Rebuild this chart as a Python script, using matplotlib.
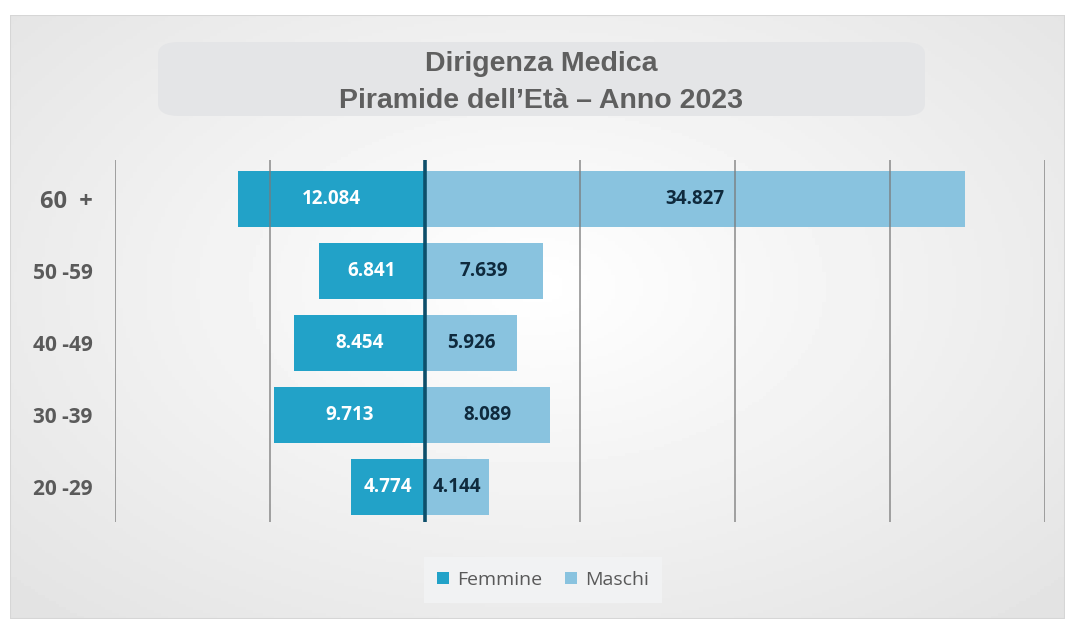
import numpy as np
import matplotlib.pyplot as plt
from matplotlib.patches import FancyBboxPatch, Rectangle

classi = ['20 -29', '30 -39', '40 -49', '50 -59', '60  +']
femmine = [4774, 9713, 8454, 6841, 12084]
maschi = [4144, 8089, 5926, 7639, 34827]
lab_f = ['4.774', '9.713', '8.454', '6.841', '12.084']
lab_m = ['4.144', '8.089', '5.926', '7.639', '34.827']

col_f = '#22a2c8'
col_m = '#89c3df'
titolo_font = ['Liberation Sans Narrow', 'Liberation Sans', 'DejaVu Sans']
num_font = ['Open Sans', 'DejaVu Sans']

fig = plt.figure(figsize=(10.65, 6.19), dpi=100, facecolor='white')

# sfondo grigio sfumato
bg = fig.add_axes([10 / 1065, 0, 1 - 10 / 1065, 1 - 15 / 619])
yy, xx = np.mgrid[0:1:200j, 0:1:300j]
r = np.sqrt(((xx - 0.5) / 0.7) ** 2 + ((yy - 0.45) / 0.75) ** 2)
bg.imshow(1 - 0.11 * np.clip(r, 0, 1), cmap='gray', vmin=0, vmax=1,
          extent=[0, 1, 0, 1], aspect='auto')
bg.add_patch(Rectangle((0, 0), 1, 1, transform=bg.transAxes, fill=False,
                       edgecolor='#d6d6d6', lw=1.5))
bg.set_axis_off()

# riquadro del titolo
fig.patches.append(FancyBboxPatch((158 / 1065, 1 - 116 / 619), 767 / 1065, 74 / 619,
                                  boxstyle='round,pad=0,rounding_size=0.02',
                                  transform=fig.transFigure, facecolor='#e4e5e7',
                                  edgecolor='none', zorder=1))
fig.text(541 / 1065, 1 - 64 / 619, 'Dirigenza Medica', ha='center', va='center',
         fontsize=20.5, fontweight='bold', color='#5f5f5f', family=titolo_font)
fig.text(541 / 1065, 1 - 101 / 619, 'Piramide dell\u2019Et\u00e0 \u2013 Anno 2023', ha='center',
         va='center', fontsize=20.5, fontweight='bold', color='#5f5f5f', family=titolo_font)

ax = fig.add_axes([115 / 1065, 1 - 522 / 619, 930 / 1065, 362 / 619])
ax.patch.set_alpha(0)
y = np.arange(len(classi))
bf = ax.barh(y, [-v for v in femmine], height=0.78, color=col_f, label='Femmine', zorder=2)
bm = ax.barh(y, maschi, height=0.78, color=col_m, label='Maschi', zorder=2)

for i in range(len(classi)):
    ax.text(-femmine[i] / 2, y[i], lab_f[i], ha='center', va='center', color='white',
            fontsize=13.5, fontweight='bold', family=num_font, zorder=4)
    ax.text(maschi[i] / 2, y[i], lab_m[i], ha='center', va='center', color='#0f2a3d',
            fontsize=13.5, fontweight='bold', family=num_font, zorder=4)

ax.set_xlim(-20000, 40000)
ax.set_ylim(-0.49, 4.54)
for xv in range(-20000, 40001, 10000):
    if xv != 0:
        ax.axvline(xv, color='#7a7a7a', lw=1.2, alpha=0.8, zorder=3)
ax.axvline(0, color='#0d4f6b', lw=2.6, zorder=3)

ax.set_yticks(y)
ax.set_yticklabels(classi, fontsize=15, fontweight='bold', color='#5a5a5a', family=num_font)
ax.get_yticklabels()[-1].set_fontsize(17)
ax.tick_params(axis='y', length=0, pad=16)
ax.set_xticks([])
for s in ax.spines.values():
    s.set_visible(False)

leg = fig.legend(handles=[bf, bm], labels=['Femmine', 'Maschi'], loc='center',
                 bbox_to_anchor=(543 / 1065, 1 - 580 / 619), ncol=2, frameon=True,
                 fancybox=False, facecolor='#f1f2f3', edgecolor='none', framealpha=1,
                 handlelength=0.6, handleheight=0.6, handletextpad=0.4, columnspacing=1.2,
                 borderpad=0.7, prop={'family': num_font, 'size': 14})
for t in leg.get_texts():
    t.set_color('#595959')

fig.savefig('out.png', dpi=100)
